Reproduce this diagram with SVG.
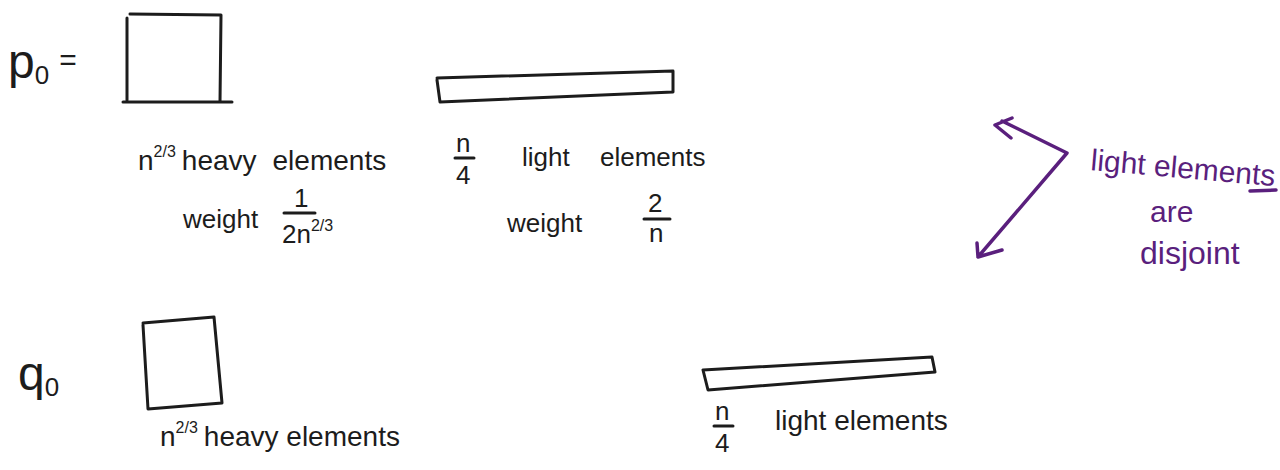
<svg xmlns="http://www.w3.org/2000/svg" width="1280" height="470" viewBox="0 0 1280 470">
<style>
.ink{fill:none;stroke:#1c1c1c;stroke-width:3;stroke-linecap:round;stroke-linejoin:round}
.pur{fill:none;stroke:#5a1f7d;stroke-width:3.5;stroke-linecap:round;stroke-linejoin:round}
.t{font-family:"Liberation Sans","DejaVu Sans",sans-serif;fill:#1c1c1c;font-size:26px}
.tl{font-size:28px}
.tp{font-family:"Liberation Sans","DejaVu Sans",sans-serif;fill:#5a1f7d;font-size:30px}
.sup{font-size:16px}
.big{font-size:48px}
</style>
<rect width="1280" height="470" fill="#ffffff"/>
<g id="p0-label">
<text class="t big" x="8" y="78">p<tspan style="font-size:26px" dy="6">0</tspan><tspan style="font-size:30px" dy="-14" dx="10">=</tspan></text>
</g>
<g id="p0-heavy">
<path class="ink" d="M130,14 L221,15 L220,102 M127,18 L127,100 M123,102 L232,102"/>
<text class="t tl" x="138" y="170">n<tspan class="sup" dy="-13">2/3</tspan><tspan dy="13" dx="6">heavy</tspan><tspan dx="16">elements</tspan></text>
<text class="t" x="183" y="228">weight</text>
<text class="t" x="294" y="207">1</text>
<line class="ink" x1="284" y1="213" x2="315" y2="213"/>
<text class="t" x="282" y="243">2n<tspan class="sup" dy="-12">2/3</tspan></text>
</g>
<g id="p0-light">
<path class="ink" d="M437,78 L673,71 L673,92 L440,102 L437,80"/>
<text class="t" x="456" y="152">n</text>
<line class="ink" x1="455" y1="158" x2="474" y2="158"/>
<text class="t" x="456" y="184">4</text>
<text class="t" x="522" y="166">light</text>
<text class="t" x="600" y="166">elements</text>
<text class="t" x="507" y="232">weight</text>
<text class="t" x="648" y="212">2</text>
<line class="ink" x1="644" y1="219" x2="670" y2="219"/>
<text class="t" x="649" y="242">n</text>
</g>
<g id="q0-label">
<text class="t big" x="18" y="390">q<tspan style="font-size:26px" dy="6">0</tspan></text>
</g>
<g id="q0-heavy">
<path class="ink" d="M143,323 L214,317 L222,403 L148,409 L143,325"/>
<text class="t tl" x="160" y="446">n<tspan class="sup" dy="-13">2/3</tspan><tspan dy="13" dx="6">heavy elements</tspan></text>
</g>
<g id="q0-light">
<path class="ink" d="M703,370 L932,357 L935,372 L708,390 L703,370"/>
<text class="t" x="715" y="420">n</text>
<line class="ink" x1="714" y1="426" x2="733" y2="426"/>
<text class="t" x="715" y="452">4</text>
<text class="t tl" x="775" y="430">light elements</text>
</g>
<g id="note">
<text class="tp" x="1090" y="170" transform="rotate(5 1090 170)">light elements</text>
<line class="pur" x1="1250" y1="191" x2="1276" y2="190"/>
<text class="tp" x="1150" y="222">are</text>
<text class="tp" x="1140" y="264" style="font-size:32px">disjoint</text>
</g>
<g id="connectors">
<path class="pur" d="M1012,118 L995,125 L1011,138 M1002,121 L1067,153 L978,257 M977,243 L978,257 L1002,250"/>
</g>
</svg>
